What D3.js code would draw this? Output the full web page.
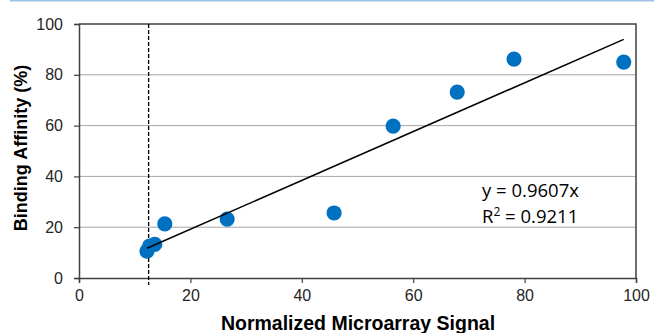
<!DOCTYPE html>
<html>
<head>
<meta charset="utf-8">
<script src="https://cdn.jsdelivr.net/npm/d3@7"></script>
<style>
  body { margin: 0; background: #fff; }
  svg { display: block; }
</style>
</head>
<body>
<main></main>
<script>
// data
let signal = [12.2, 12.7, 13.6, 15.4, 26.6, 45.8, 56.4, 67.9, 78.1, 97.8]
let affinity = [10.6, 12.6, 13.2, 21.3, 23.2, 25.6, 59.8, 73.2, 86.2, 85.0]
let slope = 0.9607
let rSquared = 0.9211
let cutoff = 12.5
let xTicks = [0, 20, 40, 60, 80, 100]
let yTicks = [0, 20, 40, 60, 80, 100]

let width = 654, height = 333
let margin = { top: 24, right: 18, bottom: 55, left: 79 }

let svg = d3.select('main')
    .append('svg')
    .attr('width', width)
    .attr('height', height)

// thin blue rule across the top
svg.append("line")
    .attr("x1", 10).attr("x2", width)
    .attr("y1", 0.5).attr("y2", 0.5)
    .attr("stroke", "#9dc3e6")
    .attr("stroke-width", 2)

let x = d3.scaleLinear().domain([0, 100]).range([margin.left, width - margin.right])
let y = d3.scaleLinear().domain([0, 100]).range([height - margin.bottom, margin.top])

// gridlines
svg.append("g")
    .selectAll("line")
    .data(yTicks.filter(d => d > 0 && d < 100))
    .enter()
    .append("line")
    .attr("x1", x(0)).attr("x2", x(100))
    .attr("y1", d => y(d)).attr("y2", d => y(d))
    .attr("stroke", "#a6a6a6")
    .attr("stroke-width", 1)

// plot border (top and right)
svg.append("path")
    .attr("d", `M${x(0)},${y(100)}H${x(100)}V${y(0)}`)
    .attr("fill", "none")
    .attr("stroke", "#404040")
    .attr("stroke-width", 1.5)

let xAxis = svg.append("g")
    .attr("transform", `translate(0,${y(0)})`)
    .call(d3.axisBottom(x).tickValues(xTicks).tickSize(5).tickPadding(7))
let yAxis = svg.append("g")
    .attr("transform", `translate(${x(0)},0)`)
    .call(d3.axisLeft(y).tickValues(yTicks).tickSize(5).tickPadding(11))

for (let ax of [xAxis, yAxis]) {
    ax.select(".domain").attr("stroke", "#404040").attr("stroke-width", 1.5)
    ax.selectAll(".tick line").attr("stroke", "#404040").attr("stroke-width", 1.2)
    ax.selectAll("text")
        .attr("fill", "#262626")
        .style("font-family", "Liberation Sans, Arial, sans-serif")
        .style("font-size", "16px")
}

// dashed cutoff line
svg.append("line")
    .attr("x1", x(cutoff)).attr("x2", x(cutoff))
    .attr("y1", y(100)).attr("y2", y(0) + 7)
    .attr("stroke", "#000")
    .attr("stroke-width", 1.3)
    .attr("stroke-dasharray", "4,2")

// points
let points = signal.map((s, i) => ({ s: s, a: affinity[i] }))
svg.append("g")
    .selectAll("circle")
    .data(points)
    .enter()
    .append("circle")
    .attr("cx", d => x(d.s))
    .attr("cy", d => y(d.a))
    .attr("r", 7.6)
    .style("fill", "#0070c0")

// linear trendline through origin
let xMin = d3.min(signal), xMax = d3.max(signal)
svg.append("line")
    .attr("x1", x(xMin)).attr("y1", y(slope * xMin))
    .attr("x2", x(xMax)).attr("y2", y(slope * xMax))
    .attr("stroke", "#000")
    .attr("stroke-width", 1.5)

// equation label
let eq = svg.append("g")
    .style("font-family", "Open Sans, Lato, sans-serif")
    .style("font-size", "18.5px")
    .attr("fill", "#000")
eq.append("text")
    .attr("x", 482).attr("y", 197)
    .text(`y = ${slope}x`)
let r2 = eq.append("text")
    .attr("x", 482).attr("y", 223)
r2.append("tspan").text("R")
r2.append("tspan").attr("dy", -7).style("font-size", "12px").text("2")
r2.append("tspan").attr("dy", 7).text(` = ${rSquared}`)

// axis titles
svg.append("text")
    .attr("x", 358)
    .attr("y", 330)
    .attr("text-anchor", "middle")
    .style("font-family", "Liberation Sans, Arial, sans-serif")
    .style("font-size", "19.5px")
    .style("font-weight", "bold")
    .text("Normalized Microarray Signal")

svg.append("text")
    .attr("transform", `translate(27,148) rotate(-90)`)
    .attr("text-anchor", "middle")
    .style("font-family", "Liberation Sans, Arial, sans-serif")
    .style("font-size", "18px")
    .style("font-weight", "bold")
    .text("Binding Affinity (%)")
</script>
</body>
</html>
